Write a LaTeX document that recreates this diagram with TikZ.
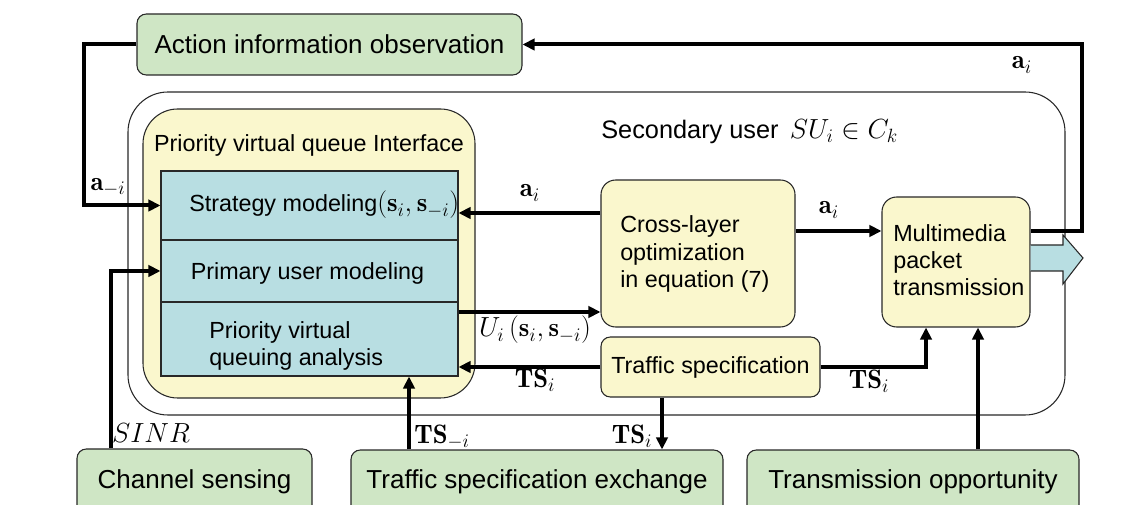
\documentclass[tikz,border=0pt]{standalone}
\usepackage{fontspec}
\newfontfamily\arial{Liberation Sans}
\usetikzlibrary{arrows.meta,calc}
\definecolor{boxgreen}{RGB}{207,230,197}
\definecolor{boxyellow}{RGB}{250,247,205}
\definecolor{boxblue}{RGB}{184,222,226}
\definecolor{edge}{RGB}{40,40,40}
\newcommand{\bigmath}[1]{{\fontsize{20}{24}\selectfont$#1$}}
\begin{document}
\begin{tikzpicture}[x=0.75pt,y=-0.75pt,
  greenbox/.style={draw=edge, line width=0.8pt, fill=boxgreen, rounded corners=7pt, inner sep=0pt, font=\arial\fontsize{19.5}{23}\selectfont},
  yellowbox/.style={draw=edge, line width=0.8pt, fill=boxyellow, rounded corners=11pt, inner sep=0pt},
  bluerow/.style={draw=edge, line width=0.8pt, fill=boxblue, inner sep=0pt, minimum width=222.75pt},
  txt/.style={inner sep=0pt, font=\arial\fontsize{17.5}{20.5}\selectfont},
  lbl/.style={inner sep=0pt, font=\fontsize{20}{24}\selectfont},
  conn/.style={line width=3pt, -{Triangle[length=9pt,width=8.5pt]}}]
\clip (0,0) rectangle (1145,505);
% containers
\node[draw=edge, line width=0.8pt, rounded corners=30pt, minimum width=702.75pt, minimum height=242.25pt, inner sep=0pt] (su) at (596.5,253.5) {};
\node[yellowbox, rounded corners=26pt, minimum width=249pt, minimum height=216.75pt] (pvq) at (309,253.5) {};
\node[txt] (pvq-t) at (309,145) {Priority virtual queue Interface};
\node[inner sep=0pt, anchor=west, font=\arial\fontsize{19}{22}\selectfont] (su-t) at (601,132) {Secondary user \,\bigmath{SU_i \in C_k}};
% blue rows
\node[bluerow, minimum height=51.75pt] (strat) at (309.5,205.5) {};
\node[bluerow, minimum height=46.5pt] (prim) at (309.5,271) {};
\node[bluerow, minimum height=55.5pt] (pva) at (309.5,339) {};
\node[txt, anchor=west] (strat-t) at (189,205) {Strategy modeling\bigmath{(\mathbf{s}_i,\mathbf{s}_{-i})}};
\node[txt] (prim-t) at (307.5,273) {Primary user modeling};
\node[txt, anchor=west, align=left] (pva-t) at (209,346) {Priority virtual\\queuing analysis};
% inner boxes
\node[yellowbox, minimum width=145.5pt, minimum height=110.25pt] (cross) at (698,253.5) {};
\node[txt, anchor=west, align=left] (cross-t) at (620,254) {Cross-layer\\optimization\\in equation (7)};
\node[yellowbox, minimum width=111pt, minimum height=97.5pt] (mm) at (956,262) {};
\node[txt, anchor=west, align=left] (mm-t) at (893,260) {Multimedia\\packet\\transmission};
\node[yellowbox, rounded corners=7pt, minimum width=164.25pt, minimum height=45pt, font=\arial\fontsize{17.5}{20.5}\selectfont] (ts) at (710.5,367) {Traffic specification};
% outside boxes
\node[greenbox, minimum width=288.75pt, minimum height=45.75pt] (act) at (329.5,44.5) {Action information observation};
\node[greenbox, minimum width=176.25pt, minimum height=49.5pt] (cs) at (194.5,482) {Channel sensing};
\node[greenbox, minimum width=279pt, minimum height=48pt] (tse) at (537,482) {Traffic specification exchange};
\node[greenbox, minimum width=249pt, minimum height=48pt] (to) at (913,482) {Transmission opportunity};
% helper coordinates
\coordinate (ay) at (0,231);
\coordinate (rx) at (1082,231);
\coordinate (lx) at (84,205.5);
\coordinate (sy) at (0,213);
\coordinate (uy) at (0,312);
\coordinate (tsx) at (926,0);
\coordinate (tsdx) at (662,0);
\coordinate (tsux) at (409,0);
\coordinate (sinrx) at (111,0);
\coordinate (tox) at (978,0);
% fat output arrow
\draw[draw=edge, line width=0.8pt, fill=boxblue] (mm.east |- 0,245) -- (1063,245) -- (1063,235) -- (1083,258) -- (1063,284) -- (1063,271) -- (mm.east |- 0,271);
% connectors
\draw[conn] (act.west) -| (lx) -- (strat.west);
\draw[conn] (mm.east |- ay) -- (rx) |- (act.east);
\draw[conn] (cross.west |- sy) -- (strat.east |- sy);
\draw[conn] (pva.east |- uy) -- (cross.west |- uy);
\draw[conn] (ts.west) -- (pva.east |- ts.west);
\draw[conn] (cross.east |- ay) -- (mm.west |- ay);
\draw[conn] (ts.east) -| (tsx |- mm.south);
\draw[conn] (tsdx |- ts.south) -- (tsdx |- tse.north);
\draw[conn] (tsux |- tse.north) -- (tsux |- pva.south);
\draw[conn] (sinrx |- cs.north) |- (prim.west);
\draw[conn] (tox |- to.north) -- (tox |- mm.south);
% labels
\node[lbl] (l-ami) at (108,187) {$\mathbf{a}_{-i}$};
\node[lbl] (l-atop) at (1022,65) {$\mathbf{a}_i$};
\node[lbl] (l-as) at (530,193) {$\mathbf{a}_i$};
\node[lbl] (l-am) at (829,210) {$\mathbf{a}_i$};
\node[lbl] (l-u) at (535,330) {$U_i\left(\mathbf{s}_i,\mathbf{s}_{-i}\right)$};
\node[lbl] (l-ts1) at (535,380) {$\mathbf{TS}_i$};
\node[lbl] (l-ts2) at (869,381) {$\mathbf{TS}_i$};
\node[lbl] (l-ts3) at (632,436) {$\mathbf{TS}_i$};
\node[lbl] (l-ts4) at (442,437) {$\mathbf{TS}_{-i}$};
\node[lbl] (l-sinr) at (151,433) {$SINR$};
\end{tikzpicture}
\end{document}
